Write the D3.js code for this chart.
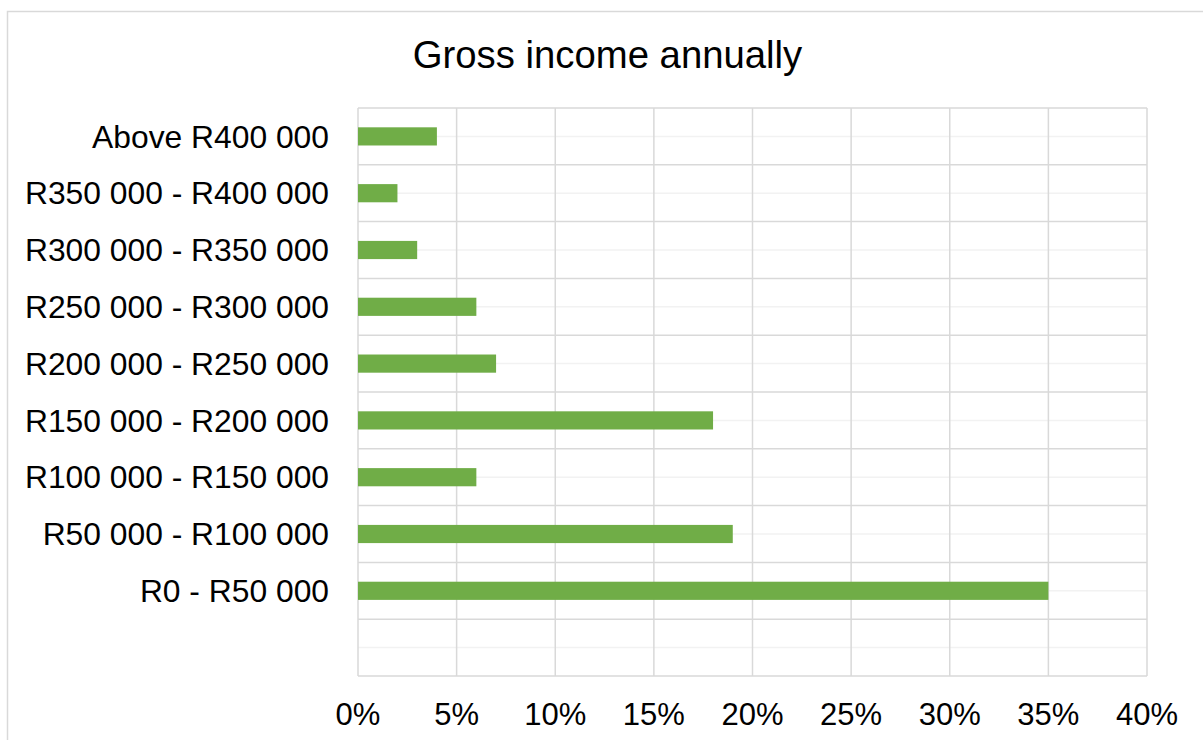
<!DOCTYPE html>
<html>
<head>
<meta charset="utf-8">
<script src="https://cdn.jsdelivr.net/npm/d3@7"></script>
<style>
  html, body { margin: 0; padding: 0; background: #fff; }
  svg { display: block; }
  text { font-family: "Liberation Sans", Arial, sans-serif; fill: #000; }
</style>
</head>
<body>
<svg id="chart" width="1203" height="740"></svg>
<script>
const title = "Gross income annually";
const categories = ["Above R400 000", "R350 000 - R400 000", "R300 000 - R350 000", "R250 000 - R300 000",
  "R200 000 - R250 000", "R150 000 - R200 000", "R100 000 - R150 000", "R50 000 - R100 000", "R0 - R50 000", ""];
const values = [4, 2, 3, 6, 7, 18, 6, 19, 35, null];
const xTicks = [0, 5, 10, 15, 20, 25, 30, 35, 40];

const svg = d3.select("#chart");
const m = { left: 358, top: 108, right: 1147, bottom: 676 };

// outer chart frame
svg.append("rect").attr("x", 7.5).attr("y", 11.5).attr("width", 1210).attr("height", 760)
  .attr("fill", "#fff").attr("stroke", "#D9D9D9").attr("stroke-width", 1.5);

const x = d3.scaleLinear().domain([0, 40]).range([m.left, m.right]);
const y = d3.scaleBand().domain(d3.range(categories.length)).range([m.top, m.bottom]).padding(0);
const bw = y.bandwidth();

const g = svg.append("g");
// minor horizontal gridlines (band centers)
g.selectAll("line.minor").data(d3.range(categories.length)).join("line")
  .attr("x1", m.left).attr("x2", m.right)
  .attr("y1", d => y(d) + bw / 2).attr("y2", d => y(d) + bw / 2)
  .attr("stroke", "#F2F2F2").attr("stroke-width", 1.5);
// major horizontal gridlines (band boundaries)
g.selectAll("line.hmaj").data(d3.range(categories.length + 1)).join("line")
  .attr("x1", m.left).attr("x2", m.right)
  .attr("y1", d => d < categories.length ? y(d) : m.bottom)
  .attr("y2", d => d < categories.length ? y(d) : m.bottom)
  .attr("stroke", "#D9D9D9").attr("stroke-width", 1.5);
// vertical gridlines
g.selectAll("line.v").data(xTicks).join("line")
  .attr("x1", d => x(d)).attr("x2", d => x(d))
  .attr("y1", m.top).attr("y2", m.bottom)
  .attr("stroke", "#D9D9D9").attr("stroke-width", 1.5);

// bars
const barH = bw * 0.32;
svg.selectAll("rect.bar").data(values.map((v, i) => ({ v, i })).filter(d => d.v != null)).join("rect")
  .attr("class", "bar")
  .attr("x", x(0))
  .attr("y", d => y(d.i) + bw / 2 - barH / 2)
  .attr("width", d => x(d.v) - x(0))
  .attr("height", barH)
  .attr("fill", "#70AD47");

// category labels
svg.selectAll("text.cat").data(categories).join("text")
  .attr("x", 329).attr("y", (d, i) => y(i) + bw / 2).attr("dy", "0.35em")
  .attr("text-anchor", "end").attr("font-size", 31.8).text(d => d);

// x tick labels
svg.selectAll("text.tick").data(xTicks).join("text")
  .attr("x", d => x(d)).attr("y", 725)
  .attr("text-anchor", "middle").attr("font-size", 31).text(d => d + "%");

// title
svg.append("text").attr("x", 607.5).attr("y", 68).attr("text-anchor", "middle")
  .attr("font-size", 38.3).text(title);
</script>
</body>
</html>
